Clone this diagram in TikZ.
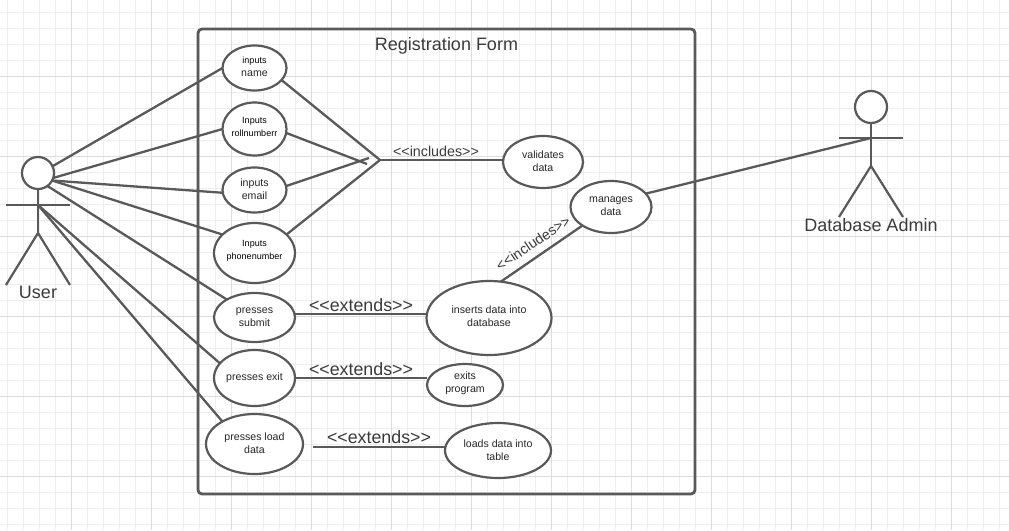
\documentclass[tikz,border=0pt]{standalone}
\usepackage{fontspec}
\setmainfont{Liberation Sans}
\usepackage{tikz}
\usetikzlibrary{shapes.geometric}

\definecolor{umlline}{HTML}{595959}
\definecolor{umltext}{HTML}{3A3A3A}
\definecolor{gridminor}{HTML}{EEEEEE}
\definecolor{gridmajor}{HTML}{DDDDDD}

\newcommand{\lift}[1]{\\[\dimexpr 2\dimexpr #1pt\relax - 13pt\relax]\mbox{}}
\newcommand{\smalltxt}[1]{{\fontsize{9}{13}\selectfont\color{black} #1}}
\newcommand{\stereo}[1]{<{}<#1>{}>}

\tikzset{
  usecase/.style={ellipse, draw=umlline, fill=white, line width=2.2pt, inner sep=-2pt, outer sep=0pt,
    align=center, text=black!85, font=\fontsize{10.6}{13}\selectfont},
  link/.style={draw=umlline, line width=2.3pt},
  limb/.style={draw=umlline, line width=2.2pt},
  head/.style={circle, draw=umlline, fill=white, line width=2.2pt, inner sep=0pt, outer sep=0pt, minimum size=32pt},
  bigtag/.style={text=umltext, font=\fontsize{18}{22}\selectfont, inner sep=0pt},
  exttag/.style={text=umltext, font=\fontsize{17.8}{22}\selectfont, inner sep=0pt},
  inctag/.style={text=umltext, font=\fontsize{14.3}{17}\selectfont, inner sep=0pt}
}

\begin{document}
\begin{tikzpicture}[x=1pt,y=-1pt]
\pgfdeclarelayer{background}
\pgfsetlayers{background,main}
\useasboundingbox (0,0) rectangle (1009,530);

\path (446.5,261.5) node (form) [draw=umlline, line width=2.8pt, rounded corners=4pt, outer sep=0pt, minimum width=497pt, minimum height=465pt] {};
\path (form.north)+(0,17) node (title) [bigtag] {Registration Form};

% use cases
\path (254.5,68) node (name) [usecase, minimum width=64pt, minimum height=45pt] {\smalltxt{inputs}\\name\lift{1.5}};
\path (254.5,129) node (roll) [usecase, minimum width=64pt, minimum height=53pt] {\smalltxt{Inputs}\\\smalltxt{rollnumberr}\lift{2.5}};
\path (254.5,190) node (email) [usecase, minimum width=64pt, minimum height=45pt] {inputs\\email\lift{1}};
\path (254.5,253) node (phone) [usecase, minimum width=81pt, minimum height=60pt] {\smalltxt{Inputs}\\\smalltxt{phonenumber}\lift{3.5}};
\path (254.5,317.5) node (submit) [usecase, minimum width=81pt, minimum height=49pt] {presses\\submit};
\path (254.5,378) node (exit) [usecase, minimum width=81pt, minimum height=56pt] {presses exit\lift{1.5}};
\path (254.5,444) node (load) [usecase, minimum width=97pt, minimum height=60pt] {presses load\\data\lift{1}};
\path (489,318) node (insert) [usecase, minimum width=125pt, minimum height=74pt] {inserts data into\\database\lift{2}};
\path (465,385) node (exits) [usecase, minimum width=76pt, minimum height=42pt] {exits\\program\lift{3}};
\path (498,450.5) node (loads) [usecase, minimum width=106pt, minimum height=55pt] {loads data into\\table};
\path (543,162) node (validates) [usecase, minimum width=80pt, minimum height=52pt] {validates\\data\lift{1}};
\path (611,207) node (manages) [usecase, minimum width=81pt, minimum height=52pt] {manages\\data\lift{1}};

% actors
\path (38,173) node (user) [head] {};
\coordinate (userneck) at (38,205);
\coordinate (userhip) at (38,233);
\path (38,292) node (usertag) [bigtag] {User};
\draw[limb] (user.south) -- (userhip);
\draw[limb] (userhip) -- (6,285);
\draw[limb] (userhip) -- (70,285);
\draw[draw=umlline, line width=2pt] (6,205) -- (70,205);

\path (871,107) node (admin) [head] {};
\coordinate (adminneck) at (871,138);
\coordinate (adminhip) at (871,166);
\path (871,225) node (admintag) [bigtag] {Database Admin};
\draw[limb] (admin.south) -- (adminhip);
\draw[limb] (adminhip) -- (839,217);
\draw[limb] (adminhip) -- (903,217);
\draw[draw=umlline, line width=2pt] (839,138) -- (903,138);

% user to use cases
\draw[link] (user.25) -- (name.west);
\draw[link] (user.-18) -- (roll.west);
\draw[link] (user.-28) -- (email.185);
\draw[link] (user.-28) -- (phone.150);
\draw[link] (user.-54) -- (submit.147);
\draw[link] (userneck) -- (exit.157);
\draw[link] (userneck) -- (load.145);

% includes
\coordinate (join) at (380,160);
\coordinate (rollend) at (367,164);
\coordinate (emailend) at (369,158);
\draw[link] (name.-24) -- (join);
\draw[link] (roll.-7) -- (rollend);
\draw[link] (email.7) -- (emailend);
\draw[link] (phone.30) -- (join);
\draw[link] (join) -- (join -| validates.west);
\path (436,151.5) node (inctag1) [inctag] {\stereo{includes}};

\draw[link] (insert.72) -- (manages.213);
\path (533,243) node (inctag2) [inctag, rotate=33.7] {\stereo{includes}};
\draw[link] (manages.21) -- (adminneck);

% extends
\draw[link] (submit.5) -- (submit.5 -| insert.west);
\path (361,305.5) node (exttag1) [exttag] {\stereo{extends}};
\draw[link] (exit.east) -- (exits.west |- exit.east);
\path (361,369.5) node (exttag2) [exttag] {\stereo{extends}};
\coordinate (loadend) at (313,447);
\draw[link] (loadend) -- (loadend -| loads.west);
\path (379,437.5) node (exttag3) [exttag] {\stereo{extends}};

\begin{pgfonlayer}{background}
    \foreach \k in {0,...,62} {
        \pgfmathsetmacro{\gx}{7.5+16*\k}
        \draw[gridminor, line width=1pt] (\gx,0) -- (\gx,530);
    }
    \foreach \k in {0,...,32} {
        \pgfmathsetmacro{\gy}{12.5+16*\k}
        \draw[gridminor, line width=1pt] (0,\gy) -- (1009,\gy);
    }
    \foreach \k in {0,...,12} {
        \pgfmathsetmacro{\gx}{71.5+80*\k}
        \draw[gridmajor, line width=1pt] (\gx,0) -- (\gx,530);
    }
    \foreach \k in {0,...,5} {
        \pgfmathsetmacro{\gy}{76+80*\k}
        \draw[gridmajor, line width=1pt] (0,\gy) -- (1009,\gy);
    }
\end{pgfonlayer}

\end{tikzpicture}
\end{document}
